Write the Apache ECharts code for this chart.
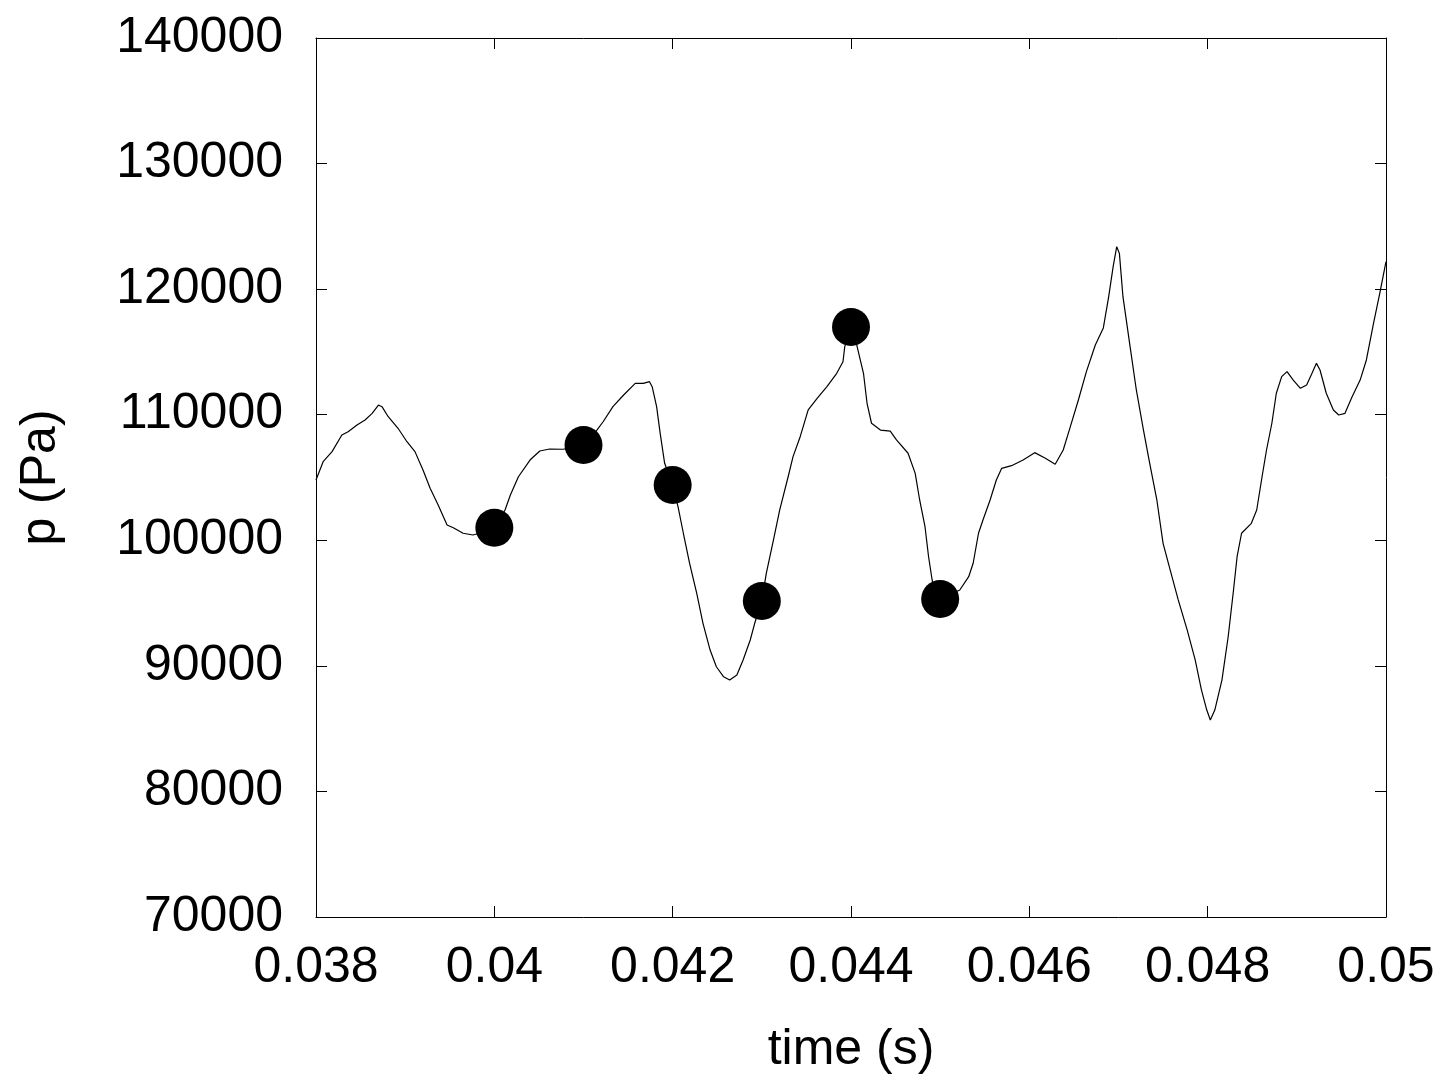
<!DOCTYPE html>
<html>
<head>
<meta charset="utf-8">
<script src="https://cdn.jsdelivr.net/npm/echarts@6/dist/echarts.min.js"></script>
<style>
html,body{margin:0;padding:0;background:#fff;}
#chart{width:1451px;height:1090px;}
</style>
</head>
<body>
<div id="chart"></div>
<script>
// time (s) of the pressure trace
const traceTime = [
0.03800,0.03808,0.03818,0.03829,0.03836,0.03846,0.03855,0.03863,0.03870,0.03874,
0.03881,0.03892,0.03902,0.03911,0.03920,0.03928,0.03937,0.03947,0.03954,0.03965,
0.03976,0.04000,0.04012,0.04018,0.04027,0.04040,0.04051,0.04062,0.04077,0.04100,
0.04115,0.04122,0.04133,0.04145,0.04158,0.04167,0.04174,0.04177,0.04182,0.04186,
0.04191,0.04200,0.04206,0.04212,0.04219,0.04227,0.04234,0.04242,0.04249,0.04257,
0.04264,0.04272,0.04279,0.04287,0.04292,0.04300,0.04305,0.04313,0.04320,0.04330,
0.04335,0.04343,0.04352,0.04362,0.04373,0.04384,0.04391,0.04393,0.04400,0.04406,
0.04414,0.04418,0.04423,0.04433,0.04444,0.04451,0.04464,0.04472,0.04477,0.04483,
0.04487,0.04491,0.04495,0.04500,0.04522,0.04532,0.04537,0.04543,0.04548,0.04556,
0.04563,0.04569,0.04580,0.04593,0.04606,0.04618,0.04629,0.04638,0.04646,0.04655,
0.04664,0.04674,0.04683,0.04689,0.04694,0.04698,0.04701,0.04705,0.04713,0.04720,
0.04728,0.04735,0.04743,0.04750,0.04758,0.04767,0.04777,0.04786,0.04793,0.04799,
0.04803,0.04808,0.04816,0.04823,0.04829,0.04833,0.04838,0.04849,0.04855,0.04861,
0.04866,0.04872,0.04877,0.04883,0.04889,0.04896,0.04904,0.04911,0.04917,0.04922,
0.04926,0.04933,0.04941,0.04947,0.04954,0.04962,0.04971,0.04978,0.04986,0.04993,
0.05000
];
// pressure (Pa) of the trace
const tracePressure = [
104800,106260,107060,108390,108650,109180,109580,110110,110770,110640,
109840,108920,107850,107060,105600,104140,102810,101220,101000,100560,
100420,100900,102410,103610,105060,106390,107110,107270,107250,107500,
108780,109440,110640,111570,112500,112500,112630,112230,110640,108520,
106130,104400,102680,100560,98170,95780,93390,91260,89930,89140,
88870,89270,90470,92060,93390,95200,97370,100020,102410,105200,
106660,108250,110380,111310,112230,113300,114220,115420,116900,115690,
113300,110910,109320,108780,108700,107990,106930,105330,103210,101080,
98690,96840,95300,95300,96040,97100,98170,100560,101620,103210,
104800,105730,105940,106390,106980,106530,106050,107190,109050,111170,
113430,115550,116910,119400,121790,123380,122850,119400,115420,111970,
108780,106130,103210,99760,97630,95250,92860,90470,88080,86480,
85690,86480,88870,92320,96040,98690,100560,101350,102410,105060,
107190,109320,111710,113030,113430,112760,112100,112370,113300,114090,
113560,111710,110380,109980,110110,111430,112760,114360,117280,119670,
122190
];
// sampled points (dots)
const dotTime = [0.040, 0.041, 0.042, 0.043, 0.044, 0.045];
const dotPressure = [101000, 107590, 104400, 95170, 116990, 95320];

const xTicks = {min: 0.038, max: 0.05, interval: 0.002};
const yTicks = {min: 70000, max: 140000, interval: 10000};

const traceData = traceTime.map((t, i) => [t, tracePressure[i]]);
const dotData = dotTime.map((t, i) => [t, dotPressure[i]]);

const FONT = '"Liberation Sans", Arial, sans-serif';
const axisLine = {show: true, lineStyle: {color: '#000', width: 1}};
const tick = {show: true, inside: true, length: 11, lineStyle: {color: '#000', width: 1}};

const chart = echarts.init(document.getElementById('chart'), null, {renderer: 'canvas'});
chart.setOption({
  animation: false,
  backgroundColor: '#fff',
  grid: {left: 316, top: 38, width: 1070, height: 879, show: false,
         containLabel: false, outerBoundsMode: 'none'},
  xAxis: [{
    type: 'value', min: xTicks.min, max: xTicks.max, interval: xTicks.interval,
    position: 'bottom',
    axisLine: axisLine, axisTick: tick, splitLine: {show: false},
    axisLabel: {fontSize: 50, color: '#000', fontFamily: FONT, margin: 26,
      formatter: v => String(+v.toFixed(3))},
    name: 'time (s)', nameLocation: 'middle', nameGap: 108,
    nameTextStyle: {fontSize: 50, color: '#000', fontFamily: FONT}
  }, {
    type: 'value', min: xTicks.min, max: xTicks.max, interval: xTicks.interval,
    position: 'top',
    axisLine: axisLine, axisTick: tick, splitLine: {show: false},
    axisLabel: {show: false}
  }],
  yAxis: [{
    type: 'value', min: yTicks.min, max: yTicks.max, interval: yTicks.interval,
    position: 'left',
    axisLine: axisLine, axisTick: tick, splitLine: {show: false},
    axisLabel: {fontSize: 50, color: '#000', fontFamily: FONT, margin: 33,
      formatter: v => String(v)},
    name: 'p (Pa)', nameLocation: 'middle', nameGap: 250, nameRotate: 90,
    nameTextStyle: {fontSize: 50, color: '#000', fontFamily: FONT}
  }, {
    type: 'value', min: yTicks.min, max: yTicks.max, interval: yTicks.interval,
    position: 'right',
    axisLine: axisLine, axisTick: tick, splitLine: {show: false},
    axisLabel: {show: false}
  }],
  series: [{
    type: 'line', data: traceData, showSymbol: false, symbol: 'none',
    lineStyle: {color: '#000', width: 1.2}, z: 2
  }, {
    type: 'scatter', data: dotData, symbol: 'circle', symbolSize: 38,
    itemStyle: {color: '#000', opacity: 1}, z: 3
  }]
});
</script>
</body>
</html>
